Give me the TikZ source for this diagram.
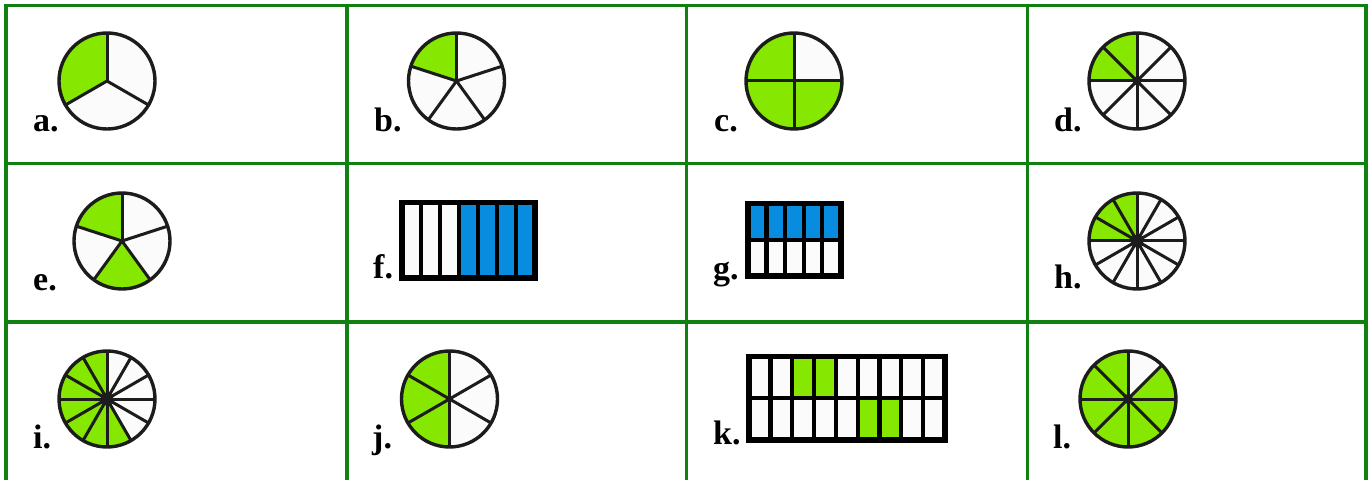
\documentclass[tikz,border=0pt]{standalone}
\usepackage{fontspec}
\setmainfont{Liberation Serif}
\definecolor{gridgreen}{RGB}{16,128,16}
\definecolor{limegreen}{RGB}{134,232,0}
\definecolor{barblue}{RGB}{8,140,224}
\definecolor{offwhite}{RGB}{250,251,250}
\definecolor{ink}{RGB}{28,28,28}
\tikzset{
  gridline/.style={draw=gridgreen, line width=3.8pt},
  rim/.style={draw=ink, line width=3.4pt},
  spoke/.style={draw=ink, line width=3pt},
  barframe/.style={draw=black, line width=5.5pt},
  bardiv/.style={draw=black, line width=4.2pt},
  lbl/.style={anchor=base west, inner sep=0pt, font=\fontsize{34}{40}\selectfont\bfseries},
}
% #1 cx, #2 cy, #3 number of sectors, #4 list of green sectors, #5 centre dot radius
\newcommand{\fracpie}[5]{%
  \begin{scope}[shift={(#1,#2)}]
    \fill[offwhite] (0,0) circle[radius=48];
    \foreach \k in {#4}
      \fill[limegreen] (0,0) -- ({90+\k*360/#3}:48)
        arc[start angle={90+\k*360/#3}, delta angle={360/#3}, radius=48] -- cycle;
    \pgfmathtruncatemacro\fpn{#3-1}
    \foreach \k in {0,...,\fpn}
      \draw[spoke] (0,0) -- ({90+\k*360/#3}:48);
    \draw[rim] (0,0) circle[radius=48];
    \fill[ink] (0,0) circle[radius=#5];
  \end{scope}}
% #1 x0, #2 y0, #3 x1, #4 y1, #5 columns, #6 rows (1 or 2), #7 list col/row/colour (row 1 on top)
\newcommand{\fracbar}[7]{%
  \fill[offwhite] (#1,#2) rectangle (#3,#4);
  \foreach \c/\r/\cl in {#7}
    \fill[\cl] ({#1+(\c-1)*(#3-#1)/#5},{#4-(\r-1)*(#4-#2)/#6})
      rectangle ({#1+\c*(#3-#1)/#5},{#4-\r*(#4-#2)/#6});
  \pgfmathtruncatemacro\fbn{#5-1}
  \foreach \c in {1,...,\fbn}
    \draw[bardiv] ({#1+\c*(#3-#1)/#5},#2) -- ({#1+\c*(#3-#1)/#5},#4);
  \ifnum#6>1 \draw[bardiv] (#1,{(#2+#4)/2}) -- (#3,{(#2+#4)/2});\fi
  \draw[barframe] (#1,#2) rectangle (#3,#4);}
\begin{document}
\begin{tikzpicture}[x=1pt,y=1pt]
\useasboundingbox (0,0) rectangle (1369,480);
\fill[white] (0,0) rectangle (1369,480);
% table
\draw[gridline] (6,0) -- (6,474.5) -- (1366,474.5) -- (1366,0);
\draw[gridline] (6,316.5) -- (1366,316.5);
\draw[gridline] (6,158) -- (1366,158);
\draw[gridline] (347,0) -- (347,474.5);
\draw[gridline] (686.5,0) -- (686.5,474.5);
\draw[gridline] (1027.5,0) -- (1027.5,474.5);
% row 1
\fracpie{107}{399}{3}{0}{1.5}
\node[lbl] (la) at (33,348) {a.};
\fracpie{456.5}{399}{5}{0}{1.5}
\node[lbl] (lb) at (374,348) {b.};
\fracpie{794}{399}{4}{0,1,2}{1.5}
\node[lbl] (lc) at (714,348) {c.};
\fracpie{1137}{399}{8}{0,1}{4.5}
\node[lbl] (ld) at (1054,348) {d.};
% row 2
\fracpie{122}{239}{5}{0,2}{1.5}
\node[lbl] (le) at (33,189.5) {e.};
\fracbar{401.8}{201.8}{535}{277.5}{7}{1}{4/1/barblue,5/1/barblue,6/1/barblue,7/1/barblue}
\node[lbl] (lf) at (373,201) {f.};
\fracbar{747.8}{203.8}{841}{276.3}{5}{2}{1/1/barblue,2/1/barblue,3/1/barblue,4/1/barblue,5/1/barblue}
\node[lbl] (lg) at (713,200.5) {g.};
\fracpie{1137}{239}{12}{0,1,2}{6.5}
\node[lbl] (lh) at (1054,192) {h.};
% row 3
\fracpie{107}{81}{12}{0,1,2,3,4,5,6}{6.5}
\node[lbl] (li) at (33,32) {i.};
\fracpie{449.5}{81}{6}{0,1,2}{1.5}
\node[lbl] (lj) at (372,32) {j.};
\fracbar{748.8}{40}{944.8}{123.3}{9}{2}{3/1/limegreen,4/1/limegreen,6/2/limegreen,7/2/limegreen}
\node[lbl] (lk) at (713,36) {k.};
\fracpie{1128}{81}{8}{0,1,2,3,4,5,6}{5}
\node[lbl] (ll) at (1053,32) {l.};
\end{tikzpicture}
\end{document}
